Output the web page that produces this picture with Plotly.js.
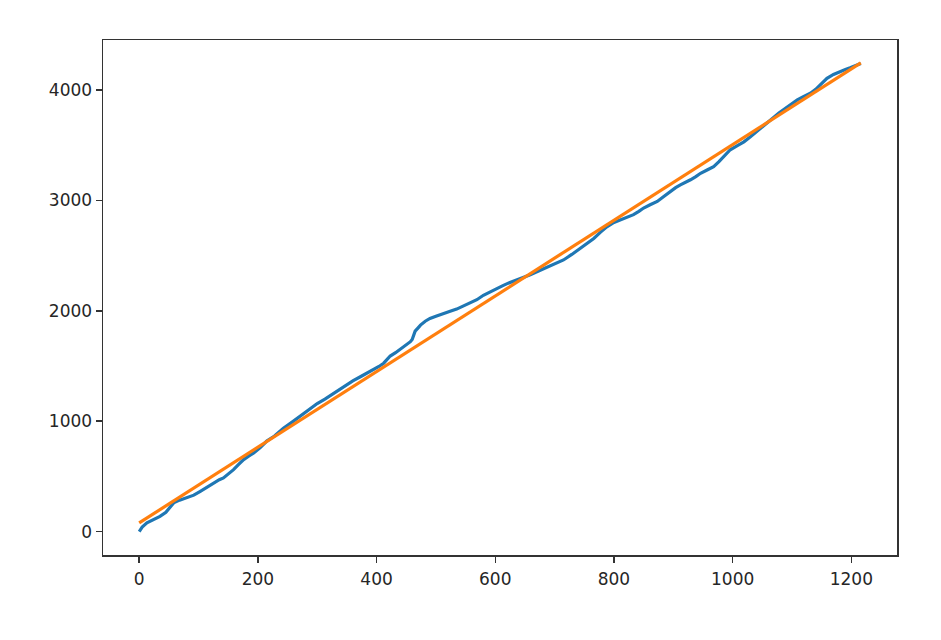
<!DOCTYPE html>
<html>
<head>
<meta charset="utf-8">
<script src="https://cdn.plot.ly/plotly-3.0.1.min.js"></script>
<style>html,body{margin:0;padding:0;background:#fff;}#chart{width:941px;height:640px;}</style>
</head>
<body>
<div id="chart"></div>
<script>
const blueX = [0, 5, 13, 22, 35, 45, 58, 68, 80, 92, 103, 115, 125, 135, 142, 150, 159, 168, 176, 185, 193, 204, 215, 228, 243, 260, 277, 288, 300, 313, 327, 338, 350, 360, 372, 384, 395, 404, 412, 418, 423, 432, 440, 450, 457, 460, 462, 465, 470, 474, 482, 490, 500, 513, 524, 535, 546, 558, 569, 580, 592, 603, 612, 622, 631, 645, 659, 673, 687, 700, 715, 729, 743, 755, 766, 777, 788, 800, 811, 822, 833, 842, 850, 861, 873, 884, 895, 904, 912, 920, 929, 938, 946, 957, 968, 977, 985, 990, 996, 1008, 1019, 1030, 1041, 1052, 1064, 1078, 1092, 1100, 1109, 1120, 1131, 1140, 1148, 1154, 1159, 1170, 1181, 1190, 1198, 1207, 1216];
const blueY = [0, 40, 79, 100, 138, 175, 260, 285, 305, 330, 365, 405, 441, 470, 486, 520, 561, 610, 652, 685, 712, 760, 820, 865, 935, 1000, 1070, 1110, 1160, 1200, 1250, 1290, 1330, 1365, 1400, 1435, 1465, 1495, 1525, 1560, 1590, 1620, 1650, 1690, 1720, 1740, 1780, 1815, 1845, 1870, 1905, 1930, 1950, 1978, 1995, 2015, 2040, 2068, 2100, 2140, 2175, 2205, 2225, 2250, 2268, 2295, 2326, 2360, 2395, 2425, 2460, 2510, 2565, 2610, 2655, 2710, 2760, 2800, 2825, 2845, 2870, 2900, 2930, 2960, 2990, 3035, 3080, 3115, 3140, 3160, 3186, 3215, 3245, 3275, 3305, 3350, 3395, 3430, 3458, 3495, 3530, 3575, 3622, 3675, 3728, 3790, 3848, 3880, 3910, 3940, 3970, 4005, 4045, 4080, 4105, 4140, 4167, 4185, 4200, 4218, 4240];
const fitX = [0, 1216];
const fitY = [79, 4244];
const xTicks = [0, 200, 400, 600, 800, 1000, 1200];
const yTicks = [0, 1000, 2000, 3000, 4000];

const traces = [
  {x: blueX, y: blueY, type: 'scatter', mode: 'lines', line: {color: '#1f77b4', width: 3.2}, hoverinfo: 'skip'},
  {x: fitX, y: fitY, type: 'scatter', mode: 'lines', line: {color: '#ff7f0e', width: 3.2}, hoverinfo: 'skip'}
];
const axisCommon = {
  showgrid: false, zeroline: false, showline: true, mirror: true,
  linecolor: '#333', linewidth: 1.5, ticks: 'outside', ticklen: 6, tickwidth: 1.5, tickcolor: '#333',
  tickfont: {family: 'DejaVu Sans', size: 17, color: '#262626'}
};
const layout = {
  width: 941, height: 640,
  margin: {l: 103, r: 44, t: 40, b: 85},
  paper_bgcolor: '#fff', plot_bgcolor: '#fff',
  showlegend: false,
  xaxis: Object.assign({}, axisCommon, {range: [-61, 1277], tickvals: xTicks, ticktext: xTicks.map(String), ticklabelstandoff: 2}),
  yaxis: Object.assign({}, axisCommon, {range: [-212, 4452], tickvals: yTicks, ticktext: yTicks.map(String)})
};
Plotly.newPlot('chart', traces, layout, {staticPlot: true});
</script>
</body>
</html>
